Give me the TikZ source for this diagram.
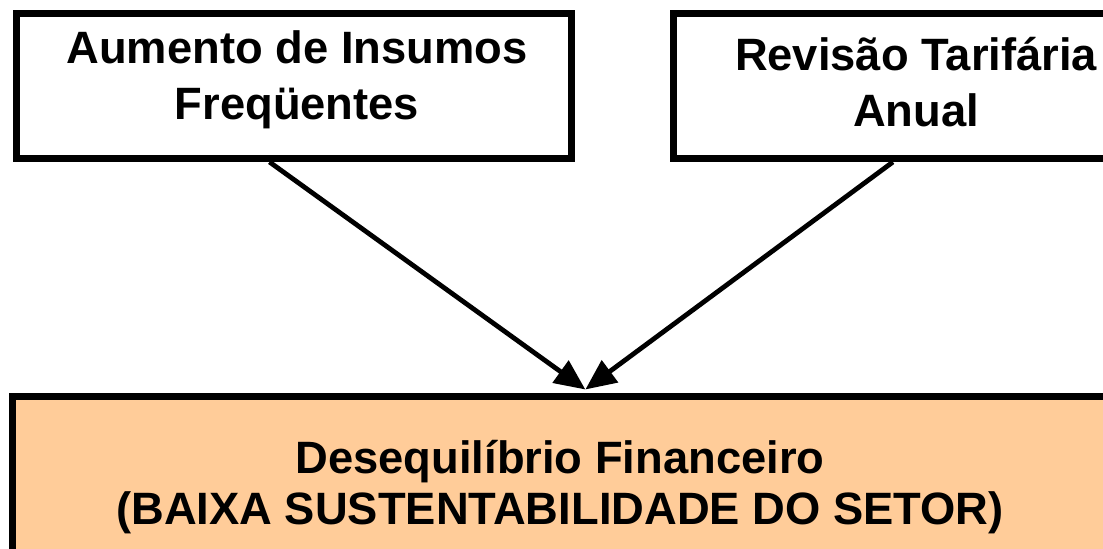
\documentclass[tikz,border=0pt]{standalone}
\usepackage{fontspec}
\setmainfont{Liberation Sans}
\usetikzlibrary{arrows.meta,calc}
\definecolor{peach}{HTML}{FFCC99}
\colorlet{effectFill}{peach}

\begin{document}
\begin{tikzpicture}[
  x=0.75pt,
  y=-0.75pt,
  every node/.style={
    inner sep=0pt,
  },
  boxtext/.style={
    anchor=base,
    align=center,
    font=\fontsize{34}{42}\selectfont\bfseries,
  },
  causebox/.style={
    draw=black,
    line width=5.25pt,
    rectangle,
    minimum height=108.75pt,
  },
  effectbox/.style={
    causebox,
    fill=effectFill,
    minimum width=822pt,
    minimum height=183pt,
  },
  cause/.style={
    line width=3.6pt,
    -{Triangle[length=23pt,width=20pt]},
  },
]
\useasboundingbox (0,0) rectangle (1103,549);
\node[causebox,minimum width=416.6pt] (aumento) at (294.25,86) {};
\node[causebox,minimum width=363.75pt] (revisao) at (916,86) {};
\node[effectbox] (desequilibrio) at (560,518.5) {};
\node[boxtext] (aumentotxt) at (297,120) {Aumento de Insumos\\Freqüentes};
\node[boxtext] (revisaotxt) at (916,127) {Revisão Tarifária\\Anual};
\node[boxtext,font=\fontsize{34}{38}\selectfont\bfseries] (desequilibriotxt) at (560,524)
  {Desequilíbrio Financeiro\\(BAIXA SUSTENTABILIDADE DO SETOR)};
\coordinate (hit) at ($(desequilibrio.north west)!.523!(desequilibrio.north east)+(0,-3.5)$);
\draw[cause] ($(aumento.south west)!.456!(aumento.south east)$) -- (hit);
\draw[cause] ($(revisao.south west)!.453!(revisao.south east)$) -- (hit);
\end{tikzpicture}
\end{document}
